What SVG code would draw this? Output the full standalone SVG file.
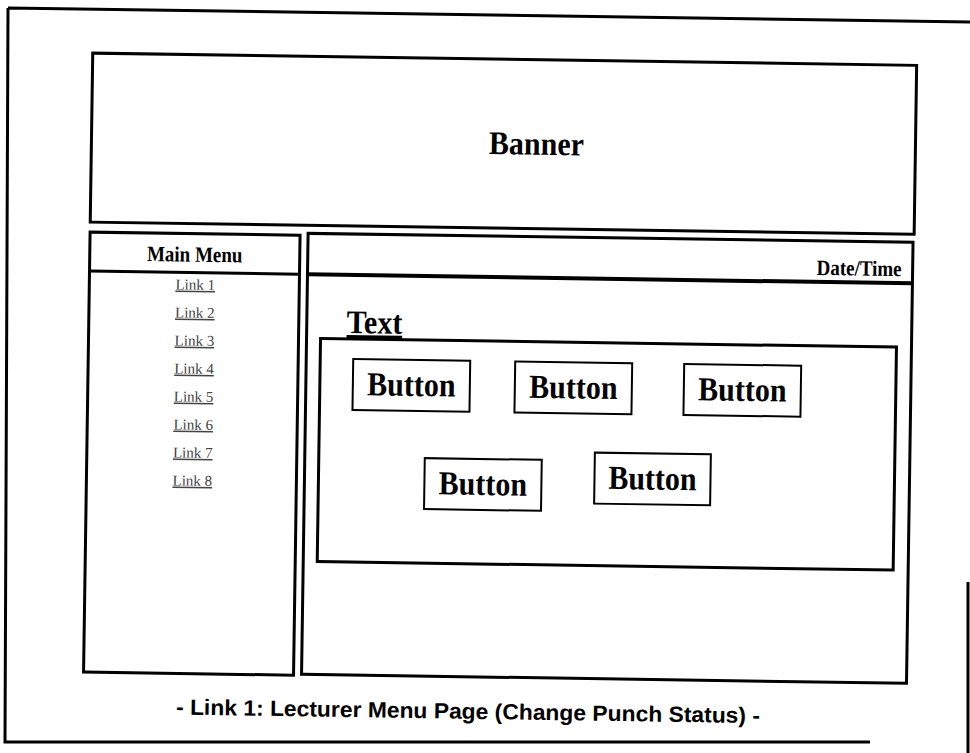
<svg xmlns="http://www.w3.org/2000/svg" width="970" height="753" viewBox="0 0 970 753">
<style>
.box{fill:none;stroke:#000;stroke-width:3}
.thin{fill:none;stroke:#000;stroke-width:2}
.t{font-family:"Liberation Serif","Times New Roman",serif;font-weight:bold;fill:#000}
.btn{font-family:"Liberation Serif","Times New Roman",serif;font-weight:bold;font-size:30px;fill:#000;text-anchor:middle}
.lk{font-family:"Liberation Serif","Times New Roman",serif;font-size:15px;fill:#444;text-decoration:underline;text-anchor:middle}
.cap{font-family:"Liberation Sans",Arial,sans-serif;font-weight:bold;font-size:22px;fill:#000}
</style>
<rect width="970" height="753" fill="#fff"/>
<g id="frame">
<path d="M8 8 L970 22 M8 8 L5 742 L870 742 M968 582 L968 753" class="box"/>
</g>
<g transform="rotate(0.85 485 376)">
<g id="banner">
<rect x="88" y="59" width="824" height="169" class="box"/>
<text class="t" transform="translate(533 154) scale(1 1.1)" font-size="30" text-anchor="middle">Banner</text>
</g>
<g id="menu">
<rect x="88" y="238" width="210" height="440" class="box"/>
<line x1="88" y1="277" x2="298" y2="277" class="box"/>
<text class="t" transform="translate(193 266) scale(1 1.15)" font-size="19" text-anchor="middle">Main Menu</text>
<text class="lk" x="194" y="294">Link 1</text>
<text class="lk" x="194" y="322">Link 2</text>
<text class="lk" x="194" y="350">Link 3</text>
<text class="lk" x="194" y="378">Link 4</text>
<text class="lk" x="194" y="406">Link 5</text>
<text class="lk" x="194" y="434">Link 6</text>
<text class="lk" x="194" y="462">Link 7</text>
<text class="lk" x="194" y="490">Link 8</text>
</g>
<g id="content">
<rect x="306" y="236" width="605" height="441" class="box"/>
<line x1="306" y1="277" x2="911" y2="277" stroke="#000" stroke-width="4"/>
<text class="t" transform="translate(900 270) scale(1 1.15)" font-size="19" text-anchor="end">Date/Time</text>
<text class="t" transform="translate(346 335) scale(1 1.1)" font-size="30" text-decoration="underline">Text</text>
<rect x="320" y="341" width="576" height="223" class="box"/>
</g>
<g id="button1"><rect x="353" y="361" width="117" height="51" class="thin"/><text class="btn" transform="translate(411.5 397) scale(1 1.12)">Button</text></g>
<g id="button2"><rect x="515" y="361" width="117" height="51" class="thin"/><text class="btn" transform="translate(573.5 397) scale(1 1.12)">Button</text></g>
<g id="button3"><rect x="684" y="361" width="117" height="51" class="thin"/><text class="btn" transform="translate(742.5 397) scale(1 1.12)">Button</text></g>
<g id="button4"><rect x="426" y="459" width="117" height="51" class="thin"/><text class="btn" transform="translate(484.5 495) scale(1 1.12)">Button</text></g>
<g id="button5"><rect x="596" y="451" width="116" height="51" class="thin"/><text class="btn" transform="translate(654 487) scale(1 1.12)">Button</text></g>
<g id="caption">
<text class="cap" x="181" y="719" textLength="584" lengthAdjust="spacingAndGlyphs">- Link 1: Lecturer Menu Page (Change Punch Status) -</text>
</g>
</g>
</svg>
